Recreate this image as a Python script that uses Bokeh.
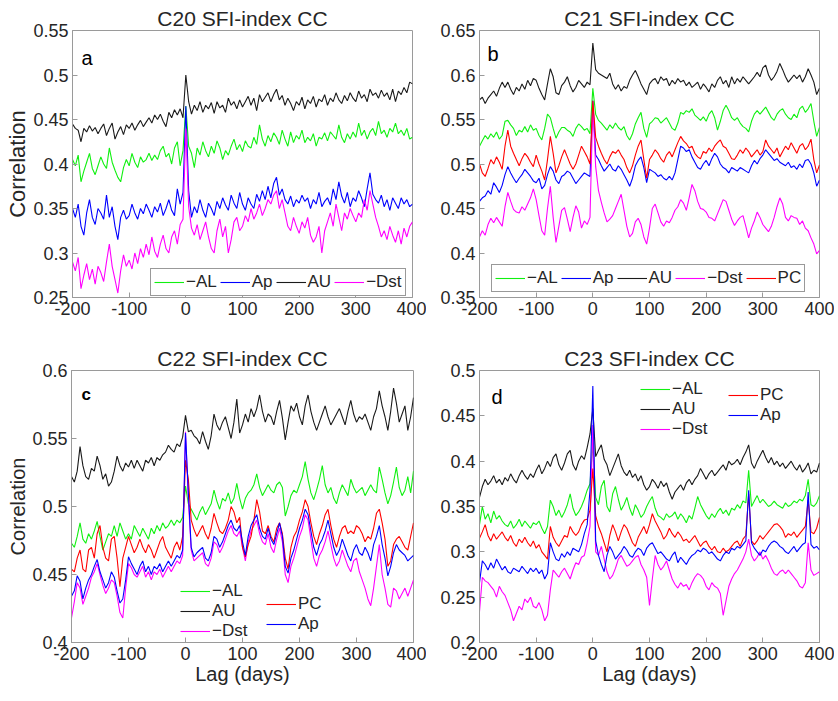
from bokeh.plotting import figure
from bokeh.layouts import column, row
from bokeh.models import FixedTicker, Legend, LegendItem, Label, CustomJSTickFormatter
from bokeh.embed import file_html
from bokeh.resources import INLINE

# lag axis (days), 5-day spacing
LAG_DAYS = list(range(-200, 401, 5))
X_TICKS = [-200, -100, 0, 100, 200, 300, 400]

# ---------------- panel a : C20 ----------------
A_TICKS = [0.25, 0.3, 0.35, 0.4, 0.45, 0.5, 0.55]
A_AU = [0.445, 0.440, 0.438, 0.425, 0.440, 0.436, 0.443, 0.437, 0.441, 0.434,
        0.440, 0.445, 0.432, 0.440, 0.446, 0.428, 0.436, 0.442, 0.433, 0.444,
        0.440, 0.446, 0.438, 0.444, 0.449, 0.442, 0.447, 0.452, 0.446, 0.455,
        0.450, 0.456, 0.448, 0.442, 0.458, 0.452, 0.461, 0.455, 0.462, 0.452,
        0.500, 0.470, 0.456, 0.466, 0.460, 0.470, 0.458, 0.466, 0.462, 0.469,
        0.457, 0.470, 0.463, 0.466, 0.458, 0.474, 0.466, 0.470, 0.462, 0.472,
        0.464, 0.470, 0.476, 0.466, 0.474, 0.460, 0.478, 0.470, 0.475, 0.480,
        0.470, 0.478, 0.484, 0.472, 0.477, 0.466, 0.474, 0.468, 0.460, 0.470,
        0.466, 0.475, 0.462, 0.472, 0.468, 0.476, 0.464, 0.473, 0.470, 0.478,
        0.466, 0.474, 0.470, 0.480, 0.472, 0.468, 0.477, 0.471, 0.480, 0.474,
        0.470, 0.482, 0.474, 0.478, 0.470, 0.484, 0.477, 0.480, 0.474, 0.483,
        0.476, 0.480, 0.472, 0.484, 0.470, 0.482, 0.478, 0.486, 0.480, 0.492,
        0.490]
A_AL = [0.405, 0.398, 0.410, 0.380, 0.392, 0.402, 0.412, 0.395, 0.388, 0.398,
        0.408, 0.400, 0.395, 0.418, 0.402, 0.393, 0.385, 0.380, 0.396, 0.405,
        0.398, 0.412, 0.402, 0.396, 0.408, 0.402, 0.405, 0.412, 0.404, 0.410,
        0.405, 0.415, 0.420, 0.408, 0.412, 0.400, 0.418, 0.425, 0.398, 0.415,
        0.465, 0.420, 0.412, 0.396, 0.418, 0.410, 0.425, 0.415, 0.408, 0.420,
        0.412, 0.426, 0.418, 0.405, 0.415, 0.410, 0.420, 0.428, 0.416, 0.422,
        0.414, 0.426, 0.420, 0.418, 0.430, 0.422, 0.444, 0.428, 0.420, 0.432,
        0.425, 0.435, 0.430, 0.422, 0.438, 0.428, 0.420, 0.436, 0.424, 0.432,
        0.428, 0.438, 0.424, 0.430, 0.426, 0.434, 0.420, 0.430, 0.428, 0.435,
        0.426, 0.436, 0.432, 0.428, 0.444, 0.430, 0.424, 0.434, 0.428, 0.436,
        0.430, 0.446, 0.432, 0.438, 0.428, 0.436, 0.440, 0.432, 0.448, 0.434,
        0.438, 0.430, 0.440, 0.436, 0.446, 0.434, 0.438, 0.432, 0.440, 0.428,
        0.430]
A_AP = [0.350, 0.340, 0.355, 0.330, 0.320, 0.345, 0.360, 0.340, 0.332, 0.350,
        0.345, 0.338, 0.365, 0.340, 0.352, 0.330, 0.315, 0.340, 0.348, 0.338,
        0.342, 0.355, 0.345, 0.338, 0.350, 0.344, 0.355, 0.348, 0.340, 0.352,
        0.346, 0.356, 0.342, 0.350, 0.360, 0.348, 0.342, 0.372, 0.355, 0.368,
        0.465, 0.370, 0.340, 0.352, 0.345, 0.360, 0.348, 0.340, 0.356, 0.350,
        0.342, 0.358, 0.350, 0.362, 0.354, 0.348, 0.365, 0.356, 0.350, 0.368,
        0.355, 0.348, 0.362, 0.355, 0.350, 0.366, 0.358, 0.370, 0.360, 0.375,
        0.362, 0.378, 0.385, 0.365, 0.372, 0.360, 0.355, 0.364, 0.352, 0.360,
        0.356, 0.365, 0.358, 0.362, 0.350, 0.360, 0.355, 0.368, 0.352, 0.358,
        0.362, 0.354, 0.372, 0.360, 0.380, 0.364, 0.356, 0.368, 0.352, 0.362,
        0.358, 0.370, 0.362, 0.352, 0.372, 0.390, 0.366, 0.360, 0.356, 0.365,
        0.352, 0.360, 0.348, 0.362, 0.356, 0.350, 0.362, 0.355, 0.360, 0.352,
        0.355]
A_DST = [0.290, 0.280, 0.295, 0.260, 0.275, 0.288, 0.270, 0.282, 0.265, 0.285,
         0.278, 0.268, 0.290, 0.310, 0.285, 0.270, 0.255, 0.280, 0.298, 0.285,
         0.292, 0.282, 0.300, 0.288, 0.305, 0.295, 0.310, 0.298, 0.318, 0.302,
         0.295, 0.310, 0.320, 0.305, 0.300, 0.318, 0.325, 0.310, 0.332, 0.338,
         0.440, 0.352, 0.328, 0.320, 0.332, 0.315, 0.325, 0.335, 0.318, 0.305,
         0.300, 0.325, 0.338, 0.318, 0.330, 0.300, 0.315, 0.335, 0.340, 0.325,
         0.330, 0.342, 0.335, 0.350, 0.338, 0.345, 0.355, 0.342, 0.350, 0.360,
         0.355, 0.365, 0.370, 0.350, 0.360, 0.345, 0.330, 0.325, 0.340, 0.330,
         0.322, 0.335, 0.328, 0.340, 0.320, 0.312, 0.318, 0.330, 0.300, 0.325,
         0.335, 0.345, 0.330, 0.355, 0.340, 0.325, 0.345, 0.338, 0.350, 0.342,
         0.335, 0.345, 0.340, 0.360, 0.348, 0.370, 0.355, 0.340, 0.330, 0.318,
         0.325, 0.315, 0.330, 0.320, 0.312, 0.325, 0.310, 0.328, 0.318, 0.330,
         0.335]

# ---------------- panel b : C21 ----------------
B_TICKS = [0.35, 0.4, 0.45, 0.5, 0.55, 0.6, 0.65]
B_AU = [0.572, 0.575, 0.568, 0.574, 0.578, 0.582, 0.576, 0.585, 0.592, 0.586,
        0.592, 0.584, 0.578, 0.586, 0.582, 0.590, 0.584, 0.594, 0.588, 0.596,
        0.594, 0.585, 0.578, 0.572, 0.590, 0.607, 0.598, 0.580, 0.578, 0.588,
        0.592, 0.598, 0.588, 0.581, 0.586, 0.594, 0.590, 0.586, 0.592, 0.589,
        0.636, 0.606, 0.602, 0.600, 0.598, 0.596, 0.602, 0.590, 0.584, 0.589,
        0.582, 0.587, 0.585, 0.594, 0.600, 0.605, 0.598, 0.590, 0.584, 0.578,
        0.590, 0.594, 0.596, 0.590, 0.598, 0.594, 0.596, 0.588, 0.594, 0.590,
        0.596, 0.592, 0.594, 0.588, 0.592, 0.586, 0.589, 0.592, 0.584, 0.590,
        0.586, 0.581, 0.590, 0.586, 0.594, 0.598, 0.590, 0.594, 0.586, 0.598,
        0.590, 0.596, 0.592, 0.598, 0.594, 0.590, 0.594, 0.598, 0.603, 0.598,
        0.608, 0.611, 0.600, 0.594, 0.598, 0.604, 0.613, 0.606, 0.598, 0.592,
        0.596, 0.600, 0.596, 0.600, 0.592, 0.598, 0.607, 0.600, 0.592, 0.578,
        0.585]
B_AL = [0.520, 0.526, 0.532, 0.528, 0.534, 0.530, 0.536, 0.528, 0.532, 0.548,
        0.549, 0.544, 0.540, 0.532, 0.538, 0.536, 0.542, 0.536, 0.544, 0.538,
        0.540, 0.532, 0.527, 0.540, 0.556, 0.552, 0.540, 0.529, 0.536, 0.541,
        0.541, 0.538, 0.536, 0.531, 0.540, 0.545, 0.542, 0.538, 0.540, 0.534,
        0.585, 0.556, 0.549, 0.546, 0.542, 0.538, 0.544, 0.540, 0.546, 0.541,
        0.538, 0.542, 0.532, 0.527, 0.534, 0.545, 0.552, 0.558, 0.540, 0.530,
        0.545, 0.548, 0.552, 0.551, 0.546, 0.549, 0.552, 0.546, 0.540, 0.538,
        0.546, 0.558, 0.556, 0.560, 0.558, 0.562, 0.555, 0.552, 0.549, 0.553,
        0.548, 0.556, 0.560, 0.552, 0.538, 0.548, 0.560, 0.566, 0.560, 0.552,
        0.549, 0.552, 0.546, 0.542, 0.540, 0.536, 0.548, 0.556, 0.560, 0.556,
        0.560, 0.564, 0.558, 0.552, 0.549, 0.556, 0.560, 0.562, 0.556, 0.552,
        0.550, 0.556, 0.552, 0.562, 0.565, 0.558, 0.562, 0.568, 0.548, 0.531,
        0.541]
B_PC = [0.500, 0.490, 0.486, 0.495, 0.505, 0.500, 0.508, 0.502, 0.494, 0.520,
        0.538, 0.520, 0.512, 0.505, 0.498, 0.506, 0.512, 0.508, 0.502, 0.497,
        0.510, 0.500, 0.492, 0.482, 0.505, 0.531, 0.512, 0.490, 0.498, 0.508,
        0.516, 0.508, 0.500, 0.494, 0.500, 0.510, 0.520, 0.514, 0.508, 0.500,
        0.571, 0.530, 0.520, 0.512, 0.505, 0.500, 0.508, 0.514, 0.512, 0.516,
        0.510, 0.505, 0.496, 0.490, 0.498, 0.510, 0.520, 0.527, 0.505, 0.484,
        0.505, 0.510, 0.516, 0.512, 0.506, 0.502, 0.510, 0.514, 0.508, 0.516,
        0.524, 0.531, 0.526, 0.523, 0.518, 0.520, 0.512, 0.508, 0.506, 0.514,
        0.512, 0.518, 0.514, 0.520, 0.524, 0.527, 0.520, 0.518, 0.512, 0.506,
        0.505, 0.510, 0.516, 0.512, 0.518, 0.514, 0.508, 0.512, 0.516, 0.510,
        0.514, 0.527, 0.520, 0.516, 0.512, 0.518, 0.508, 0.514, 0.520, 0.516,
        0.524, 0.518, 0.512, 0.520, 0.523, 0.516, 0.520, 0.528, 0.505, 0.490,
        0.499]
B_AP = [0.458, 0.462, 0.464, 0.470, 0.466, 0.479, 0.474, 0.468, 0.476, 0.488,
        0.497, 0.490, 0.484, 0.479, 0.484, 0.488, 0.494, 0.490, 0.486, 0.481,
        0.479, 0.484, 0.472, 0.476, 0.488, 0.497, 0.492, 0.482, 0.478, 0.486,
        0.488, 0.492, 0.490, 0.484, 0.478, 0.482, 0.486, 0.490, 0.488, 0.486,
        0.571, 0.510, 0.505, 0.498, 0.492, 0.496, 0.500, 0.494, 0.492, 0.498,
        0.494, 0.488, 0.482, 0.475, 0.484, 0.498, 0.504, 0.508, 0.496, 0.479,
        0.494, 0.492, 0.490, 0.486, 0.488, 0.484, 0.482, 0.486, 0.482, 0.490,
        0.505, 0.520, 0.518, 0.514, 0.516, 0.508, 0.502, 0.496, 0.494, 0.500,
        0.504, 0.498, 0.506, 0.512, 0.508, 0.500, 0.496, 0.494, 0.490, 0.496,
        0.494, 0.492, 0.496, 0.494, 0.492, 0.490, 0.498, 0.504, 0.500, 0.506,
        0.510, 0.516, 0.512, 0.508, 0.504, 0.506, 0.502, 0.500, 0.498, 0.502,
        0.496, 0.498, 0.494, 0.500, 0.496, 0.504, 0.505, 0.500, 0.490, 0.475,
        0.482]
B_DST = [0.418, 0.425, 0.420, 0.432, 0.439, 0.434, 0.440, 0.435, 0.430, 0.452,
         0.468, 0.458, 0.449, 0.446, 0.445, 0.452, 0.448, 0.455, 0.462, 0.472,
         0.460, 0.442, 0.425, 0.420, 0.450, 0.475, 0.440, 0.412, 0.430, 0.448,
         0.451, 0.438, 0.424, 0.440, 0.453, 0.446, 0.428, 0.436, 0.432, 0.440,
         0.566, 0.497, 0.470, 0.457, 0.445, 0.435, 0.438, 0.442, 0.450, 0.458,
         0.466, 0.448, 0.430, 0.418, 0.422, 0.435, 0.439, 0.432, 0.418, 0.410,
         0.428, 0.450, 0.455, 0.445, 0.435, 0.430, 0.436, 0.434, 0.440, 0.448,
         0.452, 0.460, 0.456, 0.448, 0.462, 0.477, 0.470, 0.458, 0.450, 0.449,
         0.446, 0.440, 0.439, 0.436, 0.444, 0.452, 0.460, 0.458, 0.448, 0.438,
         0.431, 0.436, 0.440, 0.442, 0.430, 0.417, 0.428, 0.436, 0.446, 0.440,
         0.432, 0.428, 0.424, 0.430, 0.440, 0.452, 0.462, 0.455, 0.440, 0.436,
         0.442, 0.440, 0.439, 0.432, 0.436, 0.428, 0.425, 0.417, 0.410, 0.399,
         0.403]

# ---------------- panel c : C22 ----------------
C_TICKS = [0.4, 0.45, 0.5, 0.55, 0.6]
C_AU = [0.522, 0.518, 0.526, 0.544, 0.530, 0.522, 0.520, 0.528, 0.526, 0.537,
        0.530, 0.520, 0.524, 0.515, 0.518, 0.526, 0.537, 0.530, 0.526, 0.532,
        0.529, 0.534, 0.528, 0.534, 0.530, 0.526, 0.534, 0.532, 0.536, 0.530,
        0.536, 0.534, 0.538, 0.540, 0.545, 0.542, 0.540, 0.546, 0.544, 0.551,
        0.567, 0.555, 0.556, 0.552, 0.550, 0.546, 0.555, 0.548, 0.542, 0.552,
        0.568, 0.560, 0.556, 0.562, 0.566, 0.558, 0.550, 0.562, 0.579, 0.554,
        0.560, 0.568, 0.562, 0.572, 0.566, 0.572, 0.582, 0.570, 0.562, 0.568,
        0.566, 0.560, 0.570, 0.578, 0.565, 0.549, 0.562, 0.574, 0.570, 0.576,
        0.566, 0.560, 0.574, 0.582, 0.570, 0.562, 0.556, 0.562, 0.568, 0.574,
        0.566, 0.560, 0.564, 0.568, 0.572, 0.566, 0.560, 0.570, 0.578, 0.568,
        0.562, 0.566, 0.564, 0.568, 0.562, 0.556, 0.566, 0.572, 0.585, 0.574,
        0.566, 0.556, 0.570, 0.587, 0.576, 0.562, 0.568, 0.574, 0.556, 0.566,
        0.580]
C_AL = [0.473, 0.470, 0.478, 0.488, 0.476, 0.473, 0.480, 0.476, 0.482, 0.489,
        0.478, 0.468, 0.474, 0.480, 0.478, 0.486, 0.478, 0.488, 0.482, 0.476,
        0.480, 0.476, 0.486, 0.482, 0.478, 0.484, 0.480, 0.476, 0.484, 0.480,
        0.486, 0.482, 0.488, 0.484, 0.486, 0.490, 0.486, 0.490, 0.488, 0.492,
        0.515, 0.502, 0.498, 0.494, 0.490, 0.496, 0.500, 0.494, 0.498, 0.502,
        0.512, 0.504, 0.498, 0.506, 0.504, 0.510, 0.502, 0.506, 0.517, 0.506,
        0.498, 0.506, 0.510, 0.512, 0.516, 0.524, 0.514, 0.508, 0.512, 0.516,
        0.512, 0.510, 0.516, 0.518, 0.514, 0.493, 0.500, 0.508, 0.512, 0.510,
        0.516, 0.522, 0.533, 0.520, 0.510, 0.505, 0.512, 0.520, 0.530, 0.516,
        0.510, 0.514, 0.506, 0.502, 0.510, 0.516, 0.512, 0.508, 0.520, 0.514,
        0.510, 0.512, 0.514, 0.508, 0.512, 0.516, 0.512, 0.510, 0.529, 0.520,
        0.510, 0.502, 0.508, 0.518, 0.529, 0.514, 0.508, 0.512, 0.522, 0.510,
        0.526]
C_PC = [0.454, 0.452, 0.462, 0.468, 0.454, 0.452, 0.468, 0.470, 0.462, 0.480,
        0.486, 0.470, 0.462, 0.460, 0.476, 0.478, 0.462, 0.441, 0.462, 0.470,
        0.478, 0.472, 0.466, 0.470, 0.476, 0.470, 0.466, 0.472, 0.468, 0.462,
        0.468, 0.474, 0.478, 0.470, 0.466, 0.462, 0.470, 0.474, 0.468, 0.478,
        0.534, 0.520, 0.490, 0.483, 0.478, 0.482, 0.486, 0.480, 0.476, 0.484,
        0.495, 0.488, 0.482, 0.480, 0.484, 0.490, 0.500, 0.496, 0.488, 0.492,
        0.470, 0.463, 0.472, 0.478, 0.490, 0.505, 0.496, 0.482, 0.480, 0.486,
        0.478, 0.474, 0.484, 0.488, 0.480, 0.462, 0.454, 0.470, 0.478, 0.482,
        0.490, 0.496, 0.505, 0.500, 0.488, 0.478, 0.472, 0.480, 0.486, 0.494,
        0.498, 0.486, 0.476, 0.470, 0.478, 0.484, 0.486, 0.480, 0.482, 0.480,
        0.486, 0.484, 0.480, 0.474, 0.478, 0.476, 0.484, 0.495, 0.498, 0.488,
        0.476, 0.456, 0.460, 0.472, 0.476, 0.478, 0.474, 0.470, 0.468, 0.478,
        0.488]
C_AP = [0.434, 0.438, 0.449, 0.445, 0.432, 0.440, 0.446, 0.450, 0.456, 0.461,
        0.452, 0.446, 0.440, 0.444, 0.452, 0.448, 0.438, 0.429, 0.432, 0.446,
        0.463, 0.458, 0.454, 0.450, 0.456, 0.460, 0.452, 0.456, 0.450, 0.456,
        0.454, 0.458, 0.452, 0.456, 0.460, 0.456, 0.460, 0.464, 0.462, 0.468,
        0.554, 0.510, 0.470, 0.463, 0.466, 0.468, 0.470, 0.462, 0.460, 0.466,
        0.478, 0.476, 0.470, 0.474, 0.480, 0.486, 0.490, 0.484, 0.482, 0.486,
        0.474, 0.464, 0.478, 0.486, 0.490, 0.494, 0.484, 0.478, 0.476, 0.484,
        0.476, 0.472, 0.480, 0.488, 0.478, 0.456, 0.451, 0.462, 0.468, 0.476,
        0.484, 0.490, 0.498, 0.494, 0.482, 0.470, 0.464, 0.472, 0.476, 0.482,
        0.490, 0.480, 0.470, 0.464, 0.468, 0.476, 0.470, 0.464, 0.460, 0.468,
        0.472, 0.466, 0.464, 0.470, 0.466, 0.460, 0.472, 0.478, 0.486, 0.472,
        0.462, 0.449, 0.456, 0.466, 0.472, 0.468, 0.466, 0.464, 0.460, 0.462,
        0.464]
C_DST = [0.418, 0.430, 0.444, 0.440, 0.428, 0.434, 0.440, 0.448, 0.452, 0.458,
         0.450, 0.442, 0.436, 0.440, 0.446, 0.444, 0.434, 0.422, 0.418, 0.440,
         0.458, 0.455, 0.450, 0.448, 0.452, 0.456, 0.448, 0.452, 0.446, 0.452,
         0.450, 0.454, 0.448, 0.452, 0.456, 0.452, 0.456, 0.460, 0.458, 0.464,
         0.555, 0.505, 0.468, 0.460, 0.462, 0.464, 0.466, 0.458, 0.456, 0.462,
         0.474, 0.472, 0.466, 0.470, 0.476, 0.482, 0.486, 0.480, 0.478, 0.482,
         0.470, 0.460, 0.474, 0.482, 0.486, 0.490, 0.480, 0.474, 0.472, 0.480,
         0.470, 0.466, 0.476, 0.484, 0.474, 0.450, 0.444, 0.456, 0.462, 0.470,
         0.478, 0.484, 0.494, 0.490, 0.476, 0.462, 0.456, 0.464, 0.468, 0.474,
         0.482, 0.472, 0.462, 0.456, 0.460, 0.468, 0.462, 0.456, 0.452, 0.460,
         0.462, 0.452, 0.446, 0.440, 0.432, 0.427, 0.440, 0.456, 0.472, 0.450,
         0.440, 0.428, 0.426, 0.440, 0.438, 0.432, 0.436, 0.440, 0.434, 0.440,
         0.446]

# ---------------- panel d : C23 ----------------
D_TICKS = [0.2, 0.25, 0.3, 0.35, 0.4, 0.45, 0.5]
D_AU = [0.360, 0.372, 0.380, 0.374, 0.378, 0.384, 0.376, 0.380, 0.374, 0.382,
        0.378, 0.386, 0.380, 0.376, 0.384, 0.390, 0.384, 0.380, 0.386, 0.382,
        0.390, 0.396, 0.386, 0.392, 0.400, 0.394, 0.404, 0.408, 0.396, 0.390,
        0.398, 0.408, 0.412, 0.396, 0.390, 0.400, 0.406, 0.402, 0.415, 0.430,
        0.458, 0.405, 0.412, 0.418, 0.402, 0.396, 0.384, 0.392, 0.400, 0.408,
        0.395, 0.388, 0.384, 0.390, 0.382, 0.386, 0.378, 0.384, 0.374, 0.368,
        0.372, 0.380, 0.376, 0.370, 0.378, 0.372, 0.376, 0.366, 0.358, 0.366,
        0.370, 0.374, 0.368, 0.376, 0.380, 0.374, 0.380, 0.384, 0.392, 0.386,
        0.380, 0.386, 0.390, 0.384, 0.388, 0.392, 0.396, 0.390, 0.400, 0.396,
        0.398, 0.402, 0.396, 0.404, 0.410, 0.418, 0.398, 0.392, 0.400, 0.406,
        0.412, 0.404, 0.398, 0.404, 0.396, 0.400, 0.394, 0.398, 0.392, 0.396,
        0.400, 0.394, 0.390, 0.396, 0.388, 0.392, 0.398, 0.386, 0.390, 0.388,
        0.398]
D_AL = [0.330, 0.350, 0.336, 0.342, 0.332, 0.345, 0.336, 0.340, 0.334, 0.330,
        0.328, 0.334, 0.326, 0.330, 0.336, 0.328, 0.334, 0.330, 0.326, 0.332,
        0.330, 0.334, 0.326, 0.320, 0.328, 0.357, 0.350, 0.340, 0.346, 0.338,
        0.344, 0.352, 0.364, 0.348, 0.340, 0.344, 0.350, 0.358, 0.368, 0.375,
        0.420, 0.360, 0.352, 0.372, 0.379, 0.350, 0.344, 0.364, 0.372, 0.358,
        0.346, 0.352, 0.360, 0.348, 0.340, 0.352, 0.346, 0.338, 0.342, 0.350,
        0.356, 0.361, 0.348, 0.340, 0.338, 0.335, 0.342, 0.338, 0.340, 0.344,
        0.336, 0.342, 0.338, 0.332, 0.340, 0.336, 0.348, 0.361, 0.352, 0.346,
        0.340, 0.336, 0.342, 0.338, 0.344, 0.348, 0.342, 0.346, 0.340, 0.348,
        0.346, 0.352, 0.348, 0.356, 0.354, 0.390, 0.350, 0.356, 0.362, 0.354,
        0.358, 0.354, 0.350, 0.352, 0.356, 0.352, 0.350, 0.348, 0.354, 0.350,
        0.352, 0.356, 0.354, 0.358, 0.356, 0.362, 0.380, 0.352, 0.350, 0.354,
        0.362]
D_PC = [0.315, 0.322, 0.330, 0.318, 0.312, 0.320, 0.314, 0.318, 0.322, 0.316,
        0.312, 0.318, 0.310, 0.306, 0.314, 0.310, 0.316, 0.310, 0.306, 0.312,
        0.304, 0.308, 0.300, 0.296, 0.292, 0.328, 0.316, 0.310, 0.306, 0.312,
        0.318, 0.316, 0.328, 0.322, 0.318, 0.322, 0.330, 0.335, 0.336, 0.346,
        0.392, 0.340, 0.328, 0.320, 0.310, 0.300, 0.318, 0.330, 0.322, 0.312,
        0.322, 0.330, 0.326, 0.318, 0.310, 0.306, 0.316, 0.322, 0.328, 0.320,
        0.330, 0.342, 0.334, 0.328, 0.322, 0.314, 0.318, 0.326, 0.320, 0.316,
        0.322, 0.318, 0.312, 0.314, 0.310, 0.314, 0.318, 0.312, 0.306, 0.310,
        0.312, 0.306, 0.302, 0.306, 0.300, 0.299, 0.304, 0.300, 0.302, 0.306,
        0.310, 0.312, 0.306, 0.314, 0.318, 0.364, 0.312, 0.308, 0.312, 0.318,
        0.314, 0.318, 0.322, 0.326, 0.330, 0.331, 0.328, 0.324, 0.316, 0.320,
        0.318, 0.322, 0.316, 0.320, 0.324, 0.328, 0.357, 0.322, 0.320, 0.326,
        0.338]
D_AP = [0.266, 0.290, 0.286, 0.280, 0.288, 0.282, 0.292, 0.286, 0.280, 0.284,
        0.278, 0.276, 0.282, 0.280, 0.278, 0.284, 0.280, 0.276, 0.282, 0.278,
        0.282, 0.276, 0.280, 0.270, 0.276, 0.310, 0.300, 0.292, 0.290, 0.298,
        0.294, 0.300, 0.296, 0.304, 0.302, 0.300, 0.308, 0.320, 0.330, 0.368,
        0.483, 0.312, 0.296, 0.286, 0.278, 0.296, 0.306, 0.300, 0.292, 0.296,
        0.300, 0.306, 0.302, 0.296, 0.294, 0.300, 0.304, 0.302, 0.296, 0.304,
        0.308, 0.310, 0.304, 0.298, 0.300, 0.296, 0.292, 0.290, 0.296, 0.300,
        0.288, 0.294, 0.290, 0.286, 0.292, 0.296, 0.298, 0.302, 0.300, 0.304,
        0.302, 0.298, 0.300, 0.296, 0.292, 0.290, 0.296, 0.300, 0.298, 0.304,
        0.302, 0.306, 0.304, 0.308, 0.312, 0.368, 0.310, 0.304, 0.300, 0.296,
        0.302, 0.300, 0.306, 0.310, 0.312, 0.310, 0.306, 0.304, 0.300, 0.298,
        0.302, 0.306, 0.300, 0.304, 0.308, 0.310, 0.366, 0.308, 0.304, 0.306,
        0.302]
D_DST = [0.234, 0.272, 0.268, 0.266, 0.262, 0.258, 0.250, 0.262, 0.256, 0.252,
         0.244, 0.236, 0.224, 0.232, 0.240, 0.236, 0.248, 0.244, 0.250, 0.240,
         0.238, 0.244, 0.236, 0.224, 0.230, 0.258, 0.280, 0.276, 0.272, 0.278,
         0.282, 0.276, 0.270, 0.280, 0.288, 0.286, 0.294, 0.296, 0.310, 0.328,
         0.440, 0.300, 0.296, 0.306, 0.292, 0.278, 0.270, 0.274, 0.282, 0.292,
         0.296, 0.290, 0.284, 0.286, 0.290, 0.294, 0.296, 0.286, 0.280, 0.272,
         0.241, 0.270, 0.296, 0.286, 0.280, 0.284, 0.290, 0.280, 0.270, 0.264,
         0.260, 0.266, 0.262, 0.264, 0.258, 0.266, 0.272, 0.276, 0.274, 0.270,
         0.262, 0.258, 0.266, 0.262, 0.260, 0.254, 0.230, 0.246, 0.262, 0.270,
         0.276, 0.280, 0.286, 0.292, 0.300, 0.314, 0.296, 0.290, 0.294, 0.300,
         0.292, 0.296, 0.290, 0.282, 0.276, 0.274, 0.278, 0.280, 0.276, 0.280,
         0.276, 0.272, 0.268, 0.262, 0.260, 0.266, 0.310, 0.280, 0.274, 0.276,
         0.278]

COLORS = {"AL": "#10f010", "AP": "#0000ff", "AU": "#1a1a1a", "DST": "#ff00ff", "PC": "#ff0000"}
FONT = "Liberation Sans"
GREY = "#9a9a9a"
TXT = "#262626"
TRIM = "return Number(tick.toFixed(2)).toString();"


def style_axis(ax):
    ax.axis_line_color = GREY
    ax.major_tick_line_color = GREY
    ax.major_tick_in = 5
    ax.major_tick_out = 0
    ax.minor_tick_line_color = None
    ax.major_label_text_font = FONT
    ax.major_label_text_font_size = "18px"
    ax.major_label_text_color = TXT
    ax.major_label_standoff = 4
    ax.axis_label_text_font = FONT
    ax.axis_label_text_font_style = "normal"
    ax.axis_label_text_color = TXT
    ax.axis_label_standoff = 0
    ax.formatter = CustomJSTickFormatter(code=TRIM)


def make_fig(title, yr, yticks, w, h, bl, br, bt, bb, ylabel=None, ylabel_size="22px", xlabel=None):
    p = figure(width=w, height=h, x_range=(-200, 400), y_range=yr,
               output_backend="svg", toolbar_location=None, tools="",
               min_border_left=bl, min_border_right=br, min_border_top=bt, min_border_bottom=bb)
    p.title.text = title
    p.title.align = "center"
    p.title.text_font = FONT
    p.title.text_font_size = "21px"
    p.title.text_font_style = "normal"
    p.title.text_color = TXT
    p.title.standoff = 2
    p.xgrid.visible = False
    p.ygrid.visible = False
    p.outline_line_color = GREY
    p.outline_line_alpha = 1.0
    p.background_fill_color = "white"
    p.border_fill_color = "white"
    xa = p.below[0]
    ya = p.left[0]
    xa.ticker = FixedTicker(ticks=X_TICKS)
    ya.ticker = FixedTicker(ticks=yticks)
    style_axis(xa)
    style_axis(ya)
    if ylabel:
        ya.axis_label = ylabel
        ya.axis_label_text_font_size = ylabel_size
    if xlabel:
        xa.axis_label = xlabel
        xa.axis_label_text_font_size = "20px"
    return p


def add_lines(p, series):
    rs = {}
    for key, vals in series:
        rs[key] = p.line(LAG_DAYS[:len(vals)], vals, line_color=COLORS[key], line_width=1.1)
    return rs


def panel_letter(p, txt, x, y, size="20px", style="normal"):
    p.add_layout(Label(x=x, y=y, x_units="screen", y_units="screen", text=txt,
                       text_font=FONT, text_font_size=size, text_font_style=style,
                       text_color="black", text_baseline="alphabetic"))


def make_legend(items, loc, orientation, size, boxed):
    lg = Legend(items=items, orientation=orientation, location=loc)
    lg.label_text_font = FONT
    lg.label_text_font_size = size
    lg.label_text_color = TXT
    lg.glyph_width = 30
    lg.glyph_height = 14
    lg.label_height = 14
    lg.label_standoff = 2
    lg.margin = 0
    if boxed:
        lg.padding = 3
        lg.spacing = 3
        lg.border_line_color = "#333333"
        lg.background_fill_color = "white"
        lg.background_fill_alpha = 1.0
    else:
        lg.padding = 0
        lg.spacing = 0
        lg.border_line_alpha = 0
        lg.background_fill_alpha = 0
    return lg


# panel a
pa = make_fig("C20 SFI-index CC", (0.25, 0.55), A_TICKS, 426, 322, 72, 14, 30, 25,
              ylabel="Correlation", ylabel_size="22px")
ra = add_lines(pa, [("AL", A_AL), ("AP", A_AP), ("AU", A_AU), ("DST", A_DST)])
pa.add_layout(make_legend([LegendItem(label="\u2212AL", renderers=[ra["AL"]]),
                           LegendItem(label="Ap", renderers=[ra["AP"]]),
                           LegendItem(label="AU", renderers=[ra["AU"]]),
                           LegendItem(label="\u2212Dst", renderers=[ra["DST"]])],
                          (78, 1), "horizontal", "17px", True))
panel_letter(pa, "a", 9, 240)

# panel b
pb = make_fig("C21 SFI-index CC", (0.35, 0.65), B_TICKS, 408, 322, 53, 15, 27, 23)
rb = add_lines(pb, [("AL", B_AL), ("AP", B_AP), ("AU", B_AU), ("DST", B_DST), ("PC", B_PC)])
pb.add_layout(make_legend([LegendItem(label="\u2212AL", renderers=[rb["AL"]]),
                           LegendItem(label="Ap", renderers=[rb["AP"]]),
                           LegendItem(label="AU", renderers=[rb["AU"]]),
                           LegendItem(label="\u2212Dst", renderers=[rb["DST"]]),
                           LegendItem(label="PC", renderers=[rb["PC"]])],
                          (12, 5), "horizontal", "17px", True))
panel_letter(pb, "b", 8, 244)

# panel c
pc = make_fig("C22 SFI-index CC", (0.4, 0.6), C_TICKS, 426, 368, 71, 13, 47, 48,
              ylabel="Correlation", ylabel_size="20px", xlabel="Lag (days)")
rc = add_lines(pc, [("AL", C_AL), ("AU", C_AU), ("DST", C_DST), ("PC", C_PC), ("AP", C_AP)])
pc.add_layout(make_legend([LegendItem(label="\u2212AL", renderers=[rc["AL"]]),
                           LegendItem(label="AU", renderers=[rc["AU"]]),
                           LegendItem(label="\u2212Dst", renderers=[rc["DST"]])],
                          (109, 1), "vertical", "17px", False))
pc.add_layout(make_legend([LegendItem(label="PC", renderers=[rc["PC"]]),
                           LegendItem(label="Ap", renderers=[rc["AP"]])],
                          (195, 8), "vertical", "17px", False))
panel_letter(pc, "c", 10, 248, size="17px", style="bold")

# panel d
pd = make_fig("C23 SFI-index CC", (0.2, 0.5), D_TICKS, 408, 368, 53, 15, 48, 46, xlabel="Lag (days)")
rd = add_lines(pd, [("AL", D_AL), ("AU", D_AU), ("DST", D_DST), ("PC", D_PC), ("AP", D_AP)])
pd.add_layout(make_legend([LegendItem(label="\u2212AL", renderers=[rd["AL"]]),
                           LegendItem(label="AU", renderers=[rd["AU"]]),
                           LegendItem(label="\u2212Dst", renderers=[rd["DST"]])],
                          (161, 203), "vertical", "17px", False))
pd.add_layout(make_legend([LegendItem(label="PC", renderers=[rd["PC"]]),
                           LegendItem(label="Ap", renderers=[rd["AP"]])],
                          (249, 217), "vertical", "17px", False))
panel_letter(pd, "d", 12, 246)

layout = column(row(pa, pb), row(pc, pd))
open("out.html", "w").write(file_html(layout, INLINE))
